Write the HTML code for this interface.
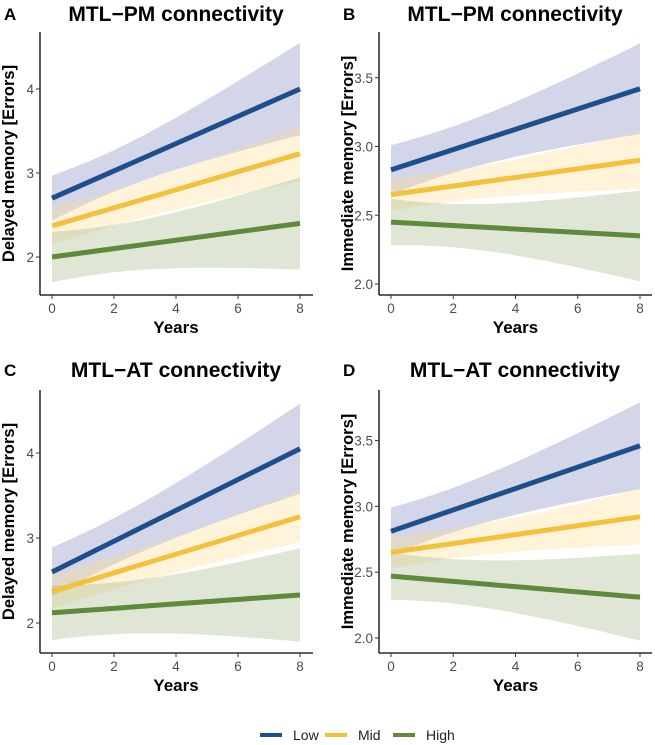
<!DOCTYPE html><html><head><meta charset="utf-8"><style>body{margin:0;background:#fff}svg{display:block;font-family:"Liberation Sans",Arial,sans-serif}</style></head><body>
<svg id="s" width="655" height="745" viewBox="0 0 655 745"></svg>
<script>
const P=[
 {L:"A",t:"MTL\u2212PM connectivity",yl:"Delayed memory [Errors]",ax:40,x0:52,xs:31,top:32,bot:295,yr:257,vs:84,ticks:[[2,"2"],[3,"3"],[4,"4"]],tx:176,ty:21,
  s:[[2.7,4.0,0.27,0.55],[2.37,3.23,0.22,0.33],[2.0,2.4,0.3,0.55]]},
 {L:"B",t:"MTL\u2212PM connectivity",yl:"Immediate memory [Errors]",ax:379,x0:391,xs:31.125,top:32,bot:295,yr:284,vs:137.5,ticks:[[2,"2.0"],[2.5,"2.5"],[3,"3.0"],[3.5,"3.5"]],tx:515,ty:21,
  s:[[2.83,3.42,0.18,0.33],[2.65,2.9,0.12,0.21],[2.45,2.35,0.17,0.33]]},
 {L:"C",t:"MTL\u2212AT connectivity",yl:"Delayed memory [Errors]",ax:40,x0:52,xs:31,top:390,bot:653,yr:623,vs:85,ticks:[[2,"2"],[3,"3"],[4,"4"]],tx:176,ty:377,
  s:[[2.6,4.05,0.29,0.53],[2.37,3.25,0.2,0.3],[2.12,2.33,0.32,0.55]]},
 {L:"D",t:"MTL\u2212AT connectivity",yl:"Immediate memory [Errors]",ax:379,x0:391,xs:31.125,top:390,bot:653,yr:638,vs:131.7,ticks:[[2,"2.0"],[2.5,"2.5"],[3,"3.0"],[3.5,"3.5"]],tx:515,ty:377,
  s:[[2.81,3.46,0.18,0.33],[2.65,2.92,0.12,0.21],[2.47,2.31,0.18,0.33]]}];
const band=["rgba(125,132,190,0.34)","rgba(255,222,140,0.32)","rgba(150,172,120,0.3)"];
const line=["#1f4e8c","#f4c13e","#5e8a3a"];
let h="";
for(const p of P){
 const X=x=>p.x0+x*p.xs, Y=v=>p.yr-(v-2)*p.vs;
 const c=1.5;
 p.s.forEach((s,i)=>{
  const[a,b,w0,w8]=s;const B=(w8*w8-w0*w0)/((8-c)**2-c*c);const A=w0*w0-B*c*c;
  let up=[],lo=[];
  for(let k=0;k<=32;k++){const x=k/4;const m=a+(b-a)*x/8;const w=Math.sqrt(A+B*(x-c)**2);
   up.push(X(x).toFixed(1)+","+Y(m+w).toFixed(1));lo.push(X(x).toFixed(1)+","+Y(m-w).toFixed(1));}
  h+=`<polygon points="${up.join(" ")} ${lo.reverse().join(" ")}" fill="${band[i]}"/>`;
 });
 p.s.forEach((s,i)=>{h+=`<line x1="${X(0)}" y1="${Y(s[0])}" x2="${X(8)}" y2="${Y(s[1])}" stroke="${line[i]}" stroke-width="5"/>`;});
 h+=`<line x1="${p.ax}" y1="${p.top}" x2="${p.ax}" y2="${p.bot}" stroke="#000" stroke-width="1.3"/><line x1="${p.ax}" y1="${p.bot}" x2="${p.ax+273}" y2="${p.bot}" stroke="#000" stroke-width="1.3"/>`;
 for(const[v,l] of p.ticks){const y=Y(v);h+=`<line x1="${p.ax-4}" y1="${y}" x2="${p.ax}" y2="${y}" stroke="#333"/><text x="${p.ax-6}" y="${y+5}" font-size="13.5" fill="#4d4d4d" text-anchor="end">${l}</text>`;}
 for(let x=0;x<=8;x+=2){h+=`<line x1="${X(x)}" y1="${p.bot}" x2="${X(x)}" y2="${p.bot+4}" stroke="#333"/><text x="${X(x)}" y="${p.bot+18}" font-size="13.5" fill="#4d4d4d" text-anchor="middle">${x}</text>`;}
 h+=`<text x="${X(4)}" y="${p.bot+38}" font-size="17" font-weight="bold" text-anchor="middle">Years</text>`;
 const cy=(p.top+p.bot)/2;const lx=p.ax-26;
 h+=`<text transform="translate(${lx},${cy}) rotate(-90)" font-size="16.5" font-weight="bold" text-anchor="middle">${p.yl}</text>`;
 h+=`<text x="${p.tx}" y="${p.ty}" font-size="21" font-weight="bold" text-anchor="middle">${p.t}</text>`;
 h+=`<text x="${p.ax-36}" y="${p.ty-1}" font-size="17" font-weight="bold">${p.L}</text>`;
}
const lg=[[260,"Low"],[325,"Mid"],[393,"High"]];
lg.forEach(([x,t],i)=>{h+=`<line x1="${x}" y1="735" x2="${x+22}" y2="735" stroke="${line[i]}" stroke-width="4"/><text x="${x+33}" y="740" font-size="14" fill="#222">${t}</text>`;});
document.getElementById("s").innerHTML=h;
</script></body></html>
